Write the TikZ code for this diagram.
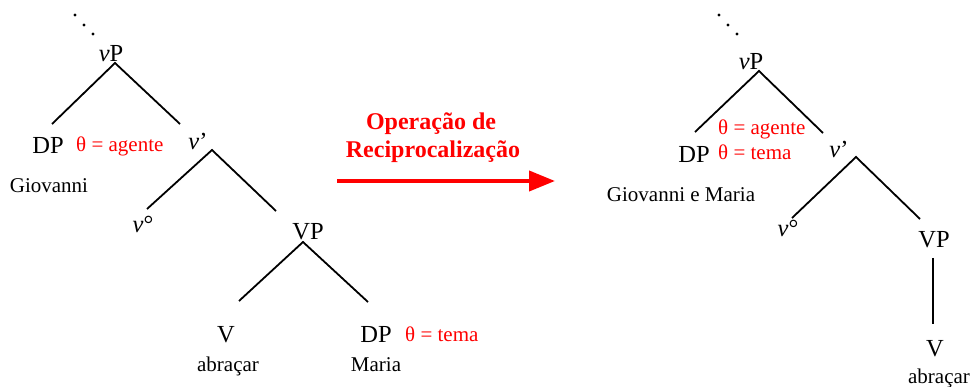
\documentclass[tikz,border=0pt]{standalone}
\usepackage{fontspec}
\setmainfont{Liberation Serif}
\usetikzlibrary{arrows.meta}
\tikzset{
  big/.style={font=\fontsize{24.5}{28}\selectfont, inner sep=0pt, anchor=base},
  small/.style={font=\fontsize{21}{24}\selectfont, inner sep=0pt, anchor=base},
  theta/.style={font=\fontsize{21}{24}\selectfont, text=red, inner sep=0pt, anchor=base west},
  branch/.style={line width=1.8pt},
  dot/.style={fill=black, circle, inner sep=0pt, minimum size=3.4pt},
  reciparrow/.style={red, line width=4pt, -{Triangle[length=26pt,width=20pt]}},
  optext/.style={font=\fontsize{24}{28}\selectfont\bfseries, text=red, inner sep=0pt, anchor=base}
}
\begin{document}
\begin{tikzpicture}[x=1pt,y=-1pt]
\useasboundingbox (0,0) rectangle (970,387);
% ---------- left tree ----------
\node[dot] (ld1) at (75,15) {};
\node[dot] (ld2) at (84,25) {};
\node[dot] (ld3) at (93,34) {};
\node[big] (lvP) at (111,62) {\textit{v}P};
\coordinate (lvPa) at (115,63);
\coordinate (lDPt) at (52,124);
\coordinate (lvbt) at (180,124);
\node[big] (lDP) at (48,154) {DP};
\node[theta] (lth1) at (76,152) {θ = agente};
\node[small] (lGio) at (49,193) {Giovanni};
\node[big] (lvb) at (198,150) {\textit{v}’};
\coordinate (lvba) at (212,150);
\coordinate (lv0t) at (147,209);
\coordinate (lVPt) at (276,211);
\node[big] (lv0) at (143,233) {\textit{v}°};
\node[big] (lVP) at (308,240) {VP};
\coordinate (lVPa) at (303,242);
\coordinate (lVt) at (239,301);
\coordinate (lDP2t) at (368,302);
\node[big] (lV) at (226,343) {V};
\node[big] (lDP2) at (376,343) {DP};
\node[theta] (lth2) at (405,342) {θ = tema};
\node[small] (labr) at (228,372) {abraçar};
\node[small] (lMar) at (376,372) {Maria};
\draw[branch] (lDPt) -- (lvPa) -- (lvbt);
\draw[branch] (lv0t) -- (lvba) -- (lVPt);
\draw[branch] (lVt) -- (lVPa) -- (lDP2t);
% ---------- arrow ----------
\node[optext] (op1) at (431,130) {Operação de};
\node[optext] (op2) at (433,158) {Reciprocalização};
\coordinate (arS) at (337,181);
\coordinate (arE) at (555,181);
\draw[reciparrow] (arS) -- (arE);
% ---------- right tree ----------
\node[dot] (rd1) at (719,15) {};
\node[dot] (rd2) at (728,25) {};
\node[dot] (rd3) at (737,34) {};
\node[big] (rvP) at (751,70) {\textit{v}P};
\coordinate (rvPa) at (759,71);
\coordinate (rDPt) at (695,132);
\coordinate (rvbt) at (823,133);
\node[theta] (rth1) at (718,135) {θ = agente};
\node[theta] (rth2) at (718,160) {θ = tema};
\node[big] (rDP) at (694,163) {DP};
\node[small] (rGio) at (681,202) {Giovanni e Maria};
\node[big] (rvb) at (839,158) {\textit{v}’};
\coordinate (rvba) at (856,157);
\coordinate (rv0t) at (792,218);
\coordinate (rVPt) at (920,219);
\node[big] (rv0) at (788,237) {\textit{v}°};
\node[big] (rVP) at (934,248) {VP};
\coordinate (rVPb) at (933,258);
\coordinate (rVt) at (933,324);
\node[big] (rV) at (935,357) {V};
\node[small] (rabr) at (939,384) {abraçar};
\draw[branch] (rDPt) -- (rvPa) -- (rvbt);
\draw[branch] (rv0t) -- (rvba) -- (rVPt);
\draw[branch] (rVPb) -- (rVt);
\end{tikzpicture}
\end{document}
